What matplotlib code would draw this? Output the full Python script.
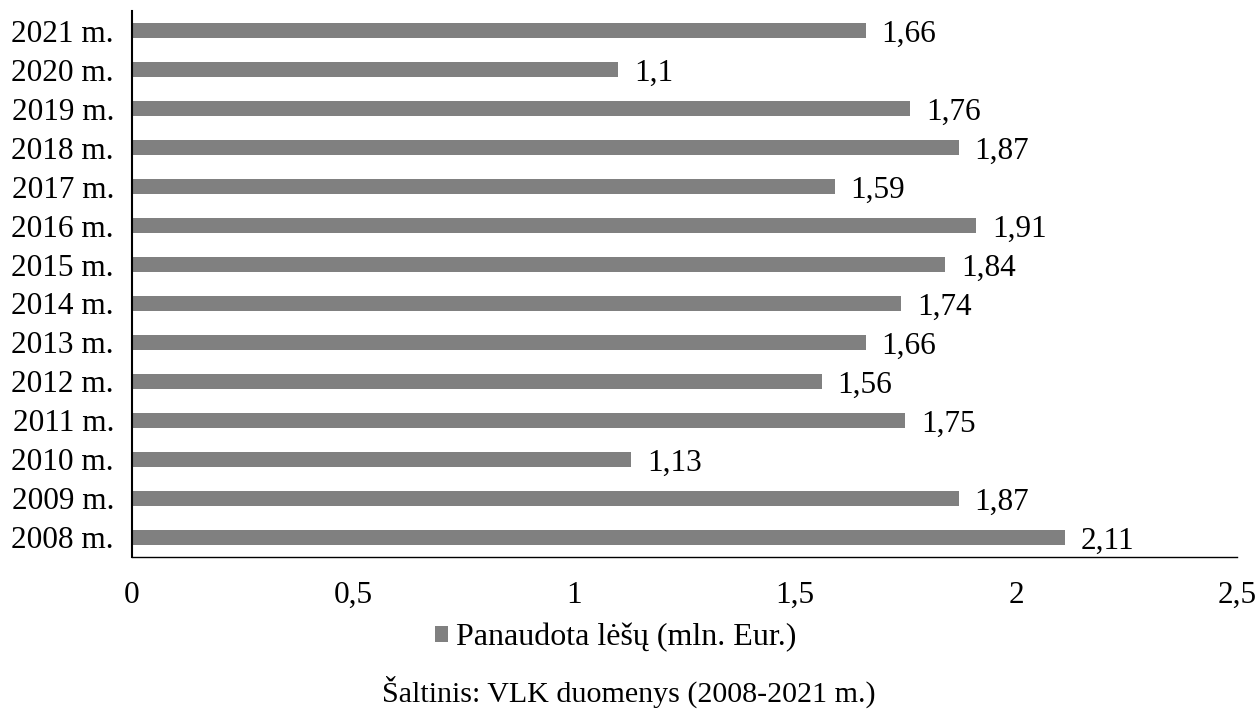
import matplotlib.pyplot as plt

plt.rcParams['font.family'] = ['Liberation Serif', 'DejaVu Serif']

years = ['2008 m.', '2009 m.', '2010 m.', '2011 m.', '2012 m.', '2013 m.', '2014 m.',
         '2015 m.', '2016 m.', '2017 m.', '2018 m.', '2019 m.', '2020 m.', '2021 m.']
values = [2.11, 1.87, 1.13, 1.75, 1.56, 1.66, 1.74, 1.84, 1.91, 1.59, 1.87, 1.76, 1.1, 1.66]
xticks = [0, 0.5, 1, 1.5, 2, 2.5]
xtick_labels = ['0', '0,5', '1', '1,5', '2', '2,5']

bar_color = '#808080'
fs = 22.5

fig = plt.figure(figsize=(12.58, 7.10), dpi=100)
ax = fig.add_axes([0.1049, 0.2155, 0.8784, 0.769])

pos = range(len(years))
bars = ax.barh(pos, values, height=0.36, color=bar_color, label='Panaudota lėšų (mln. Eur.)')

for y, v in zip(pos, values):
    ax.annotate(f'{v:g}'.replace('.', ','), (v, y), xytext=(11.5, -3),
                textcoords='offset points', ha='left', va='center', fontsize=fs)

ax.set_xlim(0, 2.5)
ax.set_ylim(-0.5, len(years) - 0.5)
ax.set_yticks(list(pos))
ax.set_yticklabels(years, fontsize=fs)
ax.set_xticks(xticks)
ax.set_xticklabels(xtick_labels, fontsize=fs)
ax.tick_params(axis='both', length=0)
ax.tick_params(axis='x', pad=17)
ax.tick_params(axis='y', pad=13)

for s in ['top', 'right']:
    ax.spines[s].set_visible(False)
ax.spines['left'].set_linewidth(1.5)
ax.spines['bottom'].set_linewidth(1.0)

fig.legend(handles=[bars], loc='center', bbox_to_anchor=(616 / 1258, 1 - 638 / 710),
           frameon=False, fontsize=23, handlelength=0.4, handleheight=0.4,
           handletextpad=0.25)

fig.text(629 / 1258, 1 - 692 / 710, 'Šaltinis: VLK duomenys (2008-2021 m.)',
         ha='center', va='center', fontsize=21.6)

fig.savefig('out.png', dpi=100)
